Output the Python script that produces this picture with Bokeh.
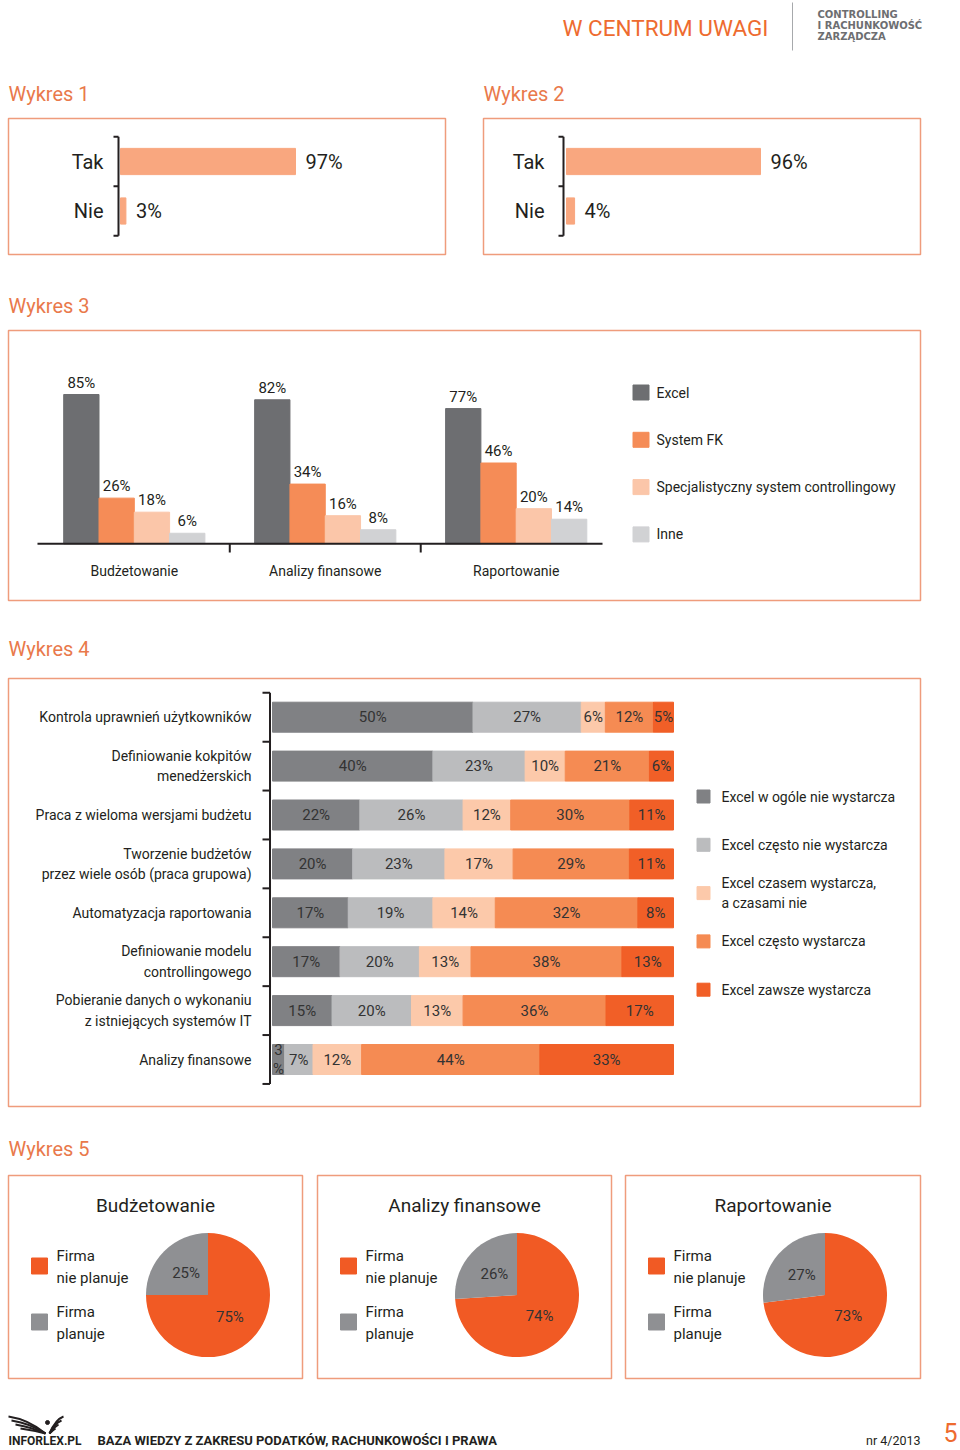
import math
import numpy as np
from bokeh.plotting import figure
from bokeh.layouts import column, row
from bokeh.models import Range1d
from bokeh.core.properties import value
from bokeh.embed import file_html
from bokeh.resources import INLINE

# ---------------- data ----------------
w1_categories = ["Tak", "Nie"]
w1_values = [97, 3]

w2_categories = ["Tak", "Nie"]
w2_values = [96, 4]

w3_groups = ["Budżetowanie", "Analizy finansowe", "Raportowanie"]
w3_series = ["Excel", "System FK", "Specjalistyczny system controllingowy", "Inne"]
w3_excel = [85, 82, 77]
w3_system_fk = [26, 34, 46]
w3_specjalistyczny = [18, 16, 20]
w3_inne = [6, 8, 14]

w4_categories = [
    "Kontrola uprawnień użytkowników",
    "Definiowanie kokpitów\nmenedżerskich",
    "Praca z wieloma wersjami budżetu",
    "Tworzenie budżetów\nprzez wiele osób (praca grupowa)",
    "Automatyzacja raportowania",
    "Definiowanie modelu\ncontrollingowego",
    "Pobieranie danych o wykonaniu\nz istniejących systemów IT",
    "Analizy finansowe",
]
w4_series = [
    "Excel w ogóle nie wystarcza",
    "Excel często nie wystarcza",
    "Excel czasem wystarcza,\na czasami nie",
    "Excel często wystarcza",
    "Excel zawsze wystarcza",
]
w4_w_ogole_nie = [50, 40, 22, 20, 17, 17, 15, 3]
w4_czesto_nie = [27, 23, 26, 23, 19, 20, 20, 7]
w4_czasem = [6, 10, 12, 17, 14, 13, 13, 12]
w4_czesto = [12, 21, 30, 29, 32, 38, 36, 44]
w4_zawsze = [5, 6, 11, 11, 8, 13, 17, 33]

w5_areas = ["Budżetowanie", "Analizy finansowe", "Raportowanie"]
w5_series = ["Firma\nnie planuje", "Firma\nplanuje"]
w5_nie_planuje = [75, 74, 73]
w5_planuje = [25, 26, 27]

# ---------------- style ----------------
FONT = "Roboto"
INK = "#231f20"
TITLE_C = "#e9794b"
HEAD_C = "#ee6b2f"
BOX = "#ef9c7c"
W1_BAR = "#f9a77f"
W3_COLORS = ["#6d6e71", "#f58c57", "#fbc6a9", "#d1d2d4"]
W4_COLORS = ["#808184", "#bbbcbe", "#fcc9aa", "#f58b53", "#f15f27"]
W5_COLORS = ["#f15a24", "#8f9093"]


def lin(p_lo, p_hi, px_a, v_a, px_b, v_b):
    s = (v_b - v_a) / (px_b - px_a)
    return Range1d(v_a + (p_lo - px_a) * s, v_a + (p_hi - px_a) * s)


def panel(x0, y0, w, h, xr=None, yr=None):
    p = figure(width=w, height=h, output_backend="svg", toolbar_location=None, tools="",
               x_range=xr if xr is not None else Range1d(x0, x0 + w),
               y_range=yr if yr is not None else Range1d(y0 + h, y0),
               x_axis_type=None, y_axis_type=None, min_border=0, title=None)
    p.outline_line_color = None
    p.background_fill_color = "white"
    p.border_fill_color = "white"
    p.extra_x_ranges = {"page": Range1d(x0, x0 + w)}
    p.extra_y_ranges = {"page": Range1d(y0 + h, y0)}
    return p


def txt(p, x, y, texts, size, color=INK, align="left", baseline="middle", font=FONT,
        style="normal", lh=1.2, xr="page", yr="page", x_offset=0, y_offset=0):
    p.text(x=x, y=y, text=list(texts), text_font=value(font), text_font_size=f"{size}px",
           text_color=color, text_align=align, text_baseline=baseline, text_font_style=style,
           text_line_height=lh, x_offset=x_offset, y_offset=y_offset,
           x_range_name=xr, y_range_name=yr)


def box(p, l, r, t, b):
    p.quad(left=l, right=r, top=t, bottom=b, fill_color=None, line_color=BOX, line_width=1.5,
           x_range_name="page", y_range_name="page")


# ---------------- header ----------------
head = panel(0, 0, 960, 70)
txt(head, [562], [27], ["W CENTRUM UWAGI"], 22.5, HEAD_C)
head.segment(x0=792, y0=2, x1=792, y1=50, line_color="#a7a9ac", line_width=1,
             x_range_name="page", y_range_name="page")
txt(head, [817, 817, 817], [14, 25, 36], ["CONTROLLING", "I RACHUNKOWOŚĆ", "ZARZĄDCZA"], 10,
    "#6d6e71", font="DejaVu Sans", style="bold")


# ---------------- Wykres 1 & 2 ----------------
def yes_no(x0, w, title, cats, vals, box_l, box_r, zero_px, end_px, label_px, bracket_px):
    y0, h = 70, 200
    n = len(cats)
    idx = list(range(n))
    xr = lin(x0, x0 + w, zero_px, 0, end_px, vals[0])
    yr = lin(y0 + h, y0, 161, 0, 210.5, 1)
    p = panel(x0, y0, w, h, xr, yr)
    box(p, box_l, box_r, 118, 254)
    txt(p, [box_l], [93], [title], 20, TITLE_C)
    p.hbar(y=idx, left=0, right=vals, height=0.53, color=W1_BAR)
    p.segment(x0=bracket_px, y0=-0.5, x1=bracket_px, y1=n - 0.5, line_color=INK, line_width=2,
              x_range_name="page")
    ticks = [i - 0.5 for i in range(n + 1)]
    p.segment(x0=bracket_px - 5, y0=ticks, x1=bracket_px, y1=ticks, line_color=INK, line_width=2,
              x_range_name="page")
    txt(p, label_px, idx, cats, 20, align="right", xr="page", yr="default")
    txt(p, vals, idx, [f"{v}%" for v in vals], 20, xr="default", yr="default", x_offset=10)
    return p


fig1 = yes_no(0, 464, "Wykres 1", w1_categories, w1_values, 8, 445, 120, 295, 103, 118)
fig2 = yes_no(464, 496, "Wykres 2", w2_categories, w2_values, 483, 920, 566, 760, 544, 563)

# ---------------- Wykres 3 ----------------
y0, h = 270, 350
xr = lin(0, 960, 133.8, 0, 324.75, 1)
yr = lin(y0 + h, y0, 543.3, 0, 394, 85)
fig3 = panel(0, y0, 960, h, xr, yr)
box(fig3, 8, 920, 330, 600)
txt(fig3, [8], [305], ["Wykres 3"], 20, TITLE_C)
bw = 35.3 / 190.95
w3_values = [w3_excel, w3_system_fk, w3_specjalistyczny, w3_inne]
for j, (vals, col) in enumerate(zip(w3_values, W3_COLORS)):
    xs = [g + (j - 1.5) * bw for g in range(len(w3_groups))]
    fig3.vbar(x=xs, top=vals, bottom=0, width=bw, color=col)
    txt(fig3, xs, vals, [f"{v}%" for v in vals], 15, align="center", baseline="bottom",
        xr="default", yr="default", y_offset=-3)
fig3.segment(x0=-0.507, y0=0, x1=2.452, y1=0, line_color=INK, line_width=2)
seps = [g + 0.5 for g in range(len(w3_groups) - 1)]
fig3.segment(x0=seps, y0=543, x1=seps, y1=552, line_color=INK, line_width=2, y_range_name="page")
txt(fig3, list(range(len(w3_groups))), 570, w3_groups, 14, align="center", xr="default", yr="page")
ly = [392 + i * 47.3 for i in range(len(w3_series))]
fig3.rect(x=640.5, y=ly, width=16, height=15, color=W3_COLORS, x_range_name="page", y_range_name="page")
txt(fig3, 656, ly, w3_series, 14)

# ---------------- Wykres 4 ----------------
y0, h = 620, 505
xr = lin(0, 960, 272, 0, 673, 100)
yr = lin(y0 + h, y0, 716.7, 0, 1059, 7)
fig4 = panel(0, y0, 960, h, xr, yr)
box(fig4, 8, 920, 678, 1106)
txt(fig4, [8], [648], ["Wykres 4"], 20, TITLE_C)
w4_values = [w4_w_ogole_nie, w4_czesto_nie, w4_czasem, w4_czesto, w4_zawsze]
arr = np.array(w4_values, dtype=float)
shares = arr / arr.sum(axis=0) * 100
right = np.cumsum(shares, axis=0)
left = right - shares
idx = list(range(len(w4_categories)))
for j, col in enumerate(W4_COLORS):
    fig4.hbar(y=idx, left=left[j], right=right[j], height=30 / 48.9, color=col)
    labels = [f"{v}%" if v > 3 else f"{v}\n%" for v in w4_values[j]]
    txt(fig4, list((left[j] + right[j]) / 2), idx, labels, 15, "#333333", align="center",
        xr="default", yr="default", lh=1.1)
n4 = len(w4_categories)
fig4.segment(x0=269.5, y0=-0.5, x1=269.5, y1=n4 - 0.5, line_color=INK, line_width=2, x_range_name="page")
t4 = [i - 0.5 for i in range(n4 + 1)]
fig4.segment(x0=262, y0=t4, x1=269.5, y1=t4, line_color=INK, line_width=2, x_range_name="page")
txt(fig4, 251, idx, w4_categories, 14, align="right", xr="page", yr="default", lh=1.3)
ly4 = [796 + i * 48.3 for i in range(len(w4_series))]
fig4.rect(x=703, y=ly4, width=13, height=13, color=W4_COLORS, x_range_name="page", y_range_name="page")
txt(fig4, 721, ly4, w4_series, 14, lh=1.3)

# ---------------- Wykres 5 ----------------
y0, h = 1125, 275
frames = [(0, 310, 8, 302), (310, 308, 317, 611), (618, 342, 625, 920)]
pies = []
for k, (fx, fw, bl, br) in enumerate(frames):
    p = panel(fx, y0, fw, h)
    box(p, bl, br, 1175, 1378)
    if k == 0:
        txt(p, [8], [1148], ["Wykres 5"], 20, TITLE_C)
    txt(p, [(bl + br) / 2], [1205], [w5_areas[k]], 19, align="center")
    vals = np.array([w5_nie_planuje[k], w5_planuje[k]], dtype=float)
    frac = vals / vals.sum()
    cum = np.concatenate([[0], np.cumsum(frac)])
    starts = math.pi / 2 - 2 * math.pi * cum[:-1]
    ends = math.pi / 2 - 2 * math.pi * cum[1:]
    cx, cy = bl + 199.5, 1294.6
    p.wedge(x=cx, y=cy, radius=62, radius_units="screen", start_angle=list(starts),
            end_angle=list(ends), direction="clock", color=W5_COLORS, line_color=None,
            x_range_name="page", y_range_name="page")
    mids = (starts + ends) / 2
    lx = [cx + 31 * math.cos(a) for a in mids]
    lyy = [cy - 31 * math.sin(a) for a in mids]
    txt(p, lx, lyy, [f"{int(v)}%" for v in vals], 15, "#333333", align="center")
    p.rect(x=bl + 31, y=[1265.5, 1321.5], width=16, height=16, color=W5_COLORS,
           x_range_name="page", y_range_name="page")
    txt(p, bl + 48, [1266.5, 1322.5], w5_series, 15, lh=1.27)
    pies.append(p)

# ---------------- footer ----------------
foot = panel(0, 1400, 960, 50)
ly0 = [1416, 1420, 1424, 1428]
foot.quadratic(x0=[8, 11, 15, 20], y0=ly0, x1=45, y1=1433, cx=[28, 30, 32, 34],
               cy=[1419, 1423, 1427, 1430], line_color=INK, line_width=2,
               x_range_name="page", y_range_name="page")
foot.quadratic(x0=[63, 61, 58, 55], y0=ly0, x1=49, y1=1433, cx=[55, 54, 53, 52],
               cy=[1419, 1423, 1427, 1430], line_color=INK, line_width=2,
               x_range_name="page", y_range_name="page")
foot.scatter(x=47, y=1422, size=4, color=INK, x_range_name="page", y_range_name="page")
txt(foot, [8], [1440], ["INFORLEX.PL"], 12, style="bold")
txt(foot, [97], [1440], ["BAZA WIEDZY Z ZAKRESU PODATKÓW, RACHUNKOWOŚCI I PRAWA"], 13, style="bold")
txt(foot, [920], [1440], ["nr 4/2013"], 12.5, align="right")
txt(foot, [943], [1432], ["5"], 25, HEAD_C)

layout = column(head, row(fig1, fig2), fig3, fig4, row(*pies), foot)
open("out.html", "w").write(file_html(layout, INLINE))
